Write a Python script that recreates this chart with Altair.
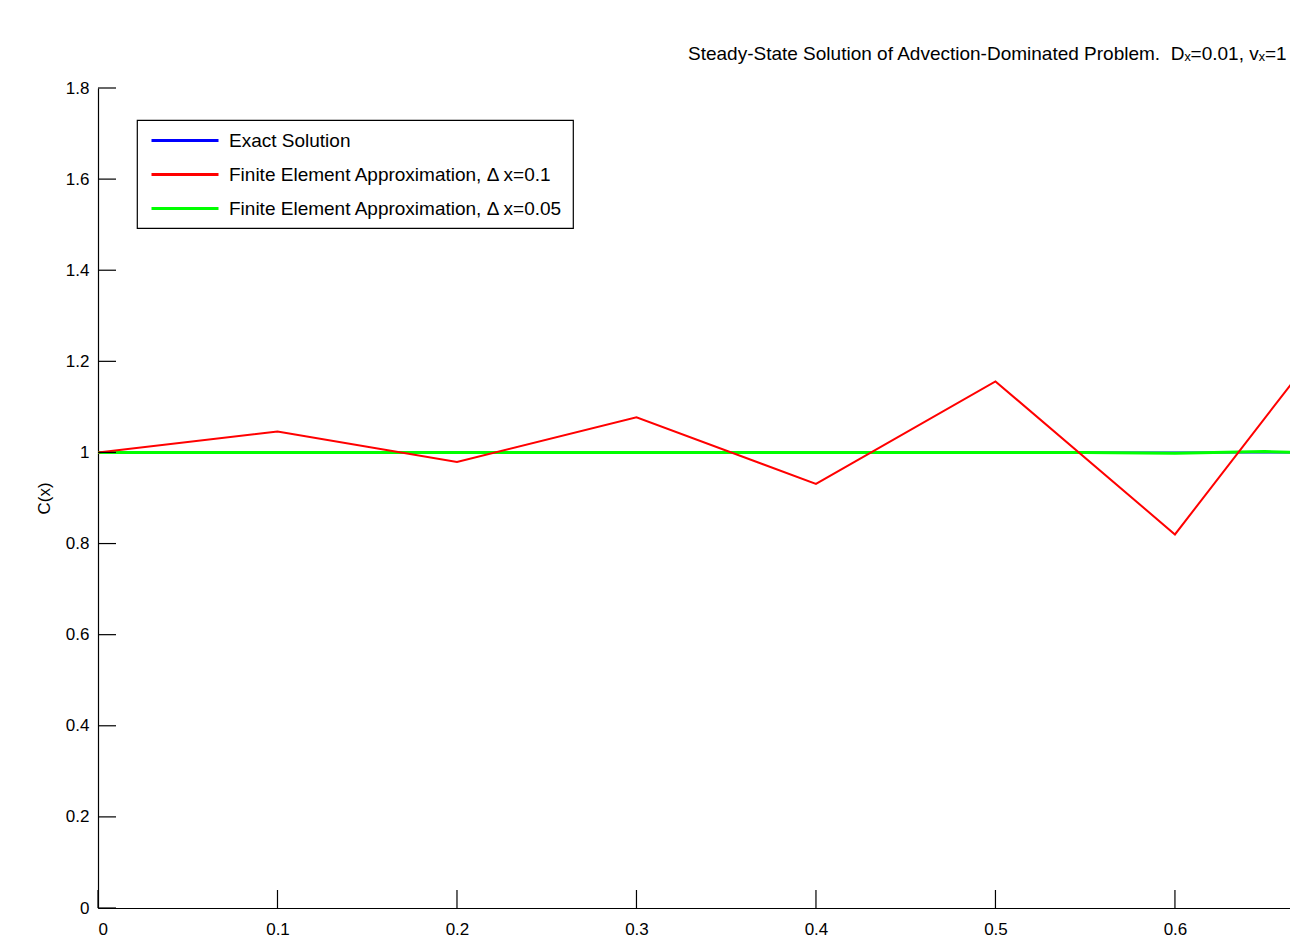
import altair as alt
import pandas as pd

# ---- data ----
x_exact = [0.0, 0.05, 0.1, 0.15, 0.2, 0.25, 0.3, 0.35, 0.4, 0.45, 0.5, 0.55, 0.6, 0.65, 0.7]
y_exact = [1.0, 1.0, 1.0, 1.0, 1.0, 1.0, 1.0, 1.0, 1.0, 1.0, 1.0, 1.0, 1.0, 1.0, 1.0]

x_fe1 = [0.0, 0.1, 0.2, 0.3, 0.4, 0.5, 0.6, 0.7]
y_fe1 = [1.0, 1.046, 0.979, 1.077, 0.931, 1.156, 0.820, 1.330]

x_fe2 = [0.0, 0.05, 0.1, 0.15, 0.2, 0.25, 0.3, 0.35, 0.4, 0.45, 0.5, 0.55, 0.6, 0.65, 0.7]
y_fe2 = [1.0, 1.0, 1.0, 1.0, 1.0, 1.0, 1.0, 1.0, 1.0, 1.0, 1.0, 1.0, 0.998, 1.002, 0.997]

series_names = [
    "Exact Solution",
    "Finite Element Approximation, \u0394 x=0.1",
    "Finite Element Approximation, \u0394 x=0.05",
]
series_colors = ["#0000ff", "#ff0000", "#00ff00"]

x_ticks = [0, 0.1, 0.2, 0.3, 0.4, 0.5, 0.6]
y_ticks = [0, 0.2, 0.4, 0.6, 0.8, 1.0, 1.2, 1.4, 1.6, 1.8]

title_text = "Steady-State Solution of Advection-Dominated Problem.\u00a0 D\u2093=0.01, v\u2093=1"

FONT = "Liberation Sans"
W, H = 1192, 820
X_MAX = 0.6641

df_exact = pd.DataFrame({"x": x_exact, "y": y_exact, "s": series_names[0]})
df_fe1 = pd.DataFrame({"x": x_fe1, "y": y_fe1, "s": series_names[1]})
df_fe2 = pd.DataFrame({"x": x_fe2, "y": y_fe2, "s": series_names[2]})

xscale = alt.Scale(domain=[0, X_MAX], nice=False, zero=False)
yscale = alt.Scale(domain=[0, 1.8], nice=False)
cscale = alt.Scale(domain=series_names, range=series_colors)

xaxis = alt.Axis(values=x_ticks, format=".1~f", ticks=False, grid=False,
                 labelPadding=13, domainColor="black", domainWidth=1.2,
                 labelFont=FONT, labelFontSize=17, labelColor="black", title=None)
yaxis = alt.Axis(values=y_ticks, format=".1~f", ticks=False, grid=False,
                 labelPadding=9, domainColor="black", domainWidth=1.2,
                 labelFont=FONT, labelFontSize=17, labelColor="black",
                 title="C(x)", titleFont=FONT, titleFontSize=17, titleFontWeight="normal",
                 titleColor="black", titlePadding=12)


def line_layer(df, width):
    return alt.Chart(df).mark_line(strokeWidth=width, clip=True).encode(
        x=alt.X("x:Q", scale=xscale, axis=xaxis),
        y=alt.Y("y:Q", scale=yscale, axis=yaxis),
        color=alt.Color("s:N", scale=cscale, sort=series_names,
                        legend=alt.Legend(title=None)),
    )


exact = line_layer(df_exact, 2)
fe2 = line_layer(df_fe2, 3)
fe1 = line_layer(df_fe1, 2)

xt = alt.Chart(pd.DataFrame({"x": x_ticks})).mark_rule(color="black", strokeWidth=1.2).encode(
    x=alt.X("x:Q", scale=xscale, axis=xaxis),
    y=alt.value(H), y2=alt.value(H - 18),
)
yt = alt.Chart(pd.DataFrame({"y": y_ticks})).mark_rule(color="black", strokeWidth=1.2).encode(
    y=alt.Y("y:Q", scale=yscale, axis=yaxis),
    x=alt.value(0), x2=alt.value(18),
)

chart = alt.layer(exact, fe2, fe1, xt, yt).properties(
    width=W, height=H,
    autosize=alt.AutoSizeParams(type="none"),
    padding={"left": 90, "top": 80, "right": 0, "bottom": 30},
    title=alt.TitleParams(title_text, anchor="start", frame="group", dx=590, offset=15,
                          font=FONT, fontSize=19, fontWeight="normal", color="black"),
).configure_view(stroke=None).configure_legend(
    orient="none", legendX=39, legendY=32,
    strokeColor="black", strokeWidth=1.2, fillColor="white", cornerRadius=0,
    padding=9, symbolType="M-0.6,0H6.1", symbolSize=400, symbolStrokeWidth=3,
    labelFont=FONT, labelFontSize=19, labelColor="black", labelOffset=60,
    rowPadding=12, labelLimit=600,
)

chart.save("out.html", embed_options={"renderer": "svg", "actions": False})
